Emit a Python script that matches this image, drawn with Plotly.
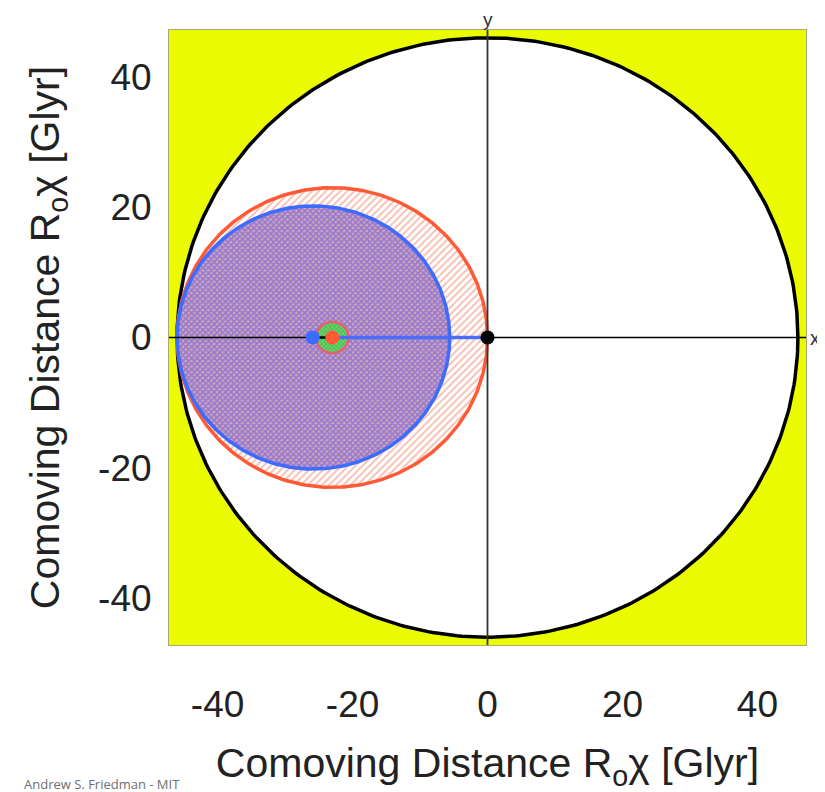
import numpy as np
import plotly.graph_objects as go

# ---- data (Glyr) ----
axis_range = [-47.2, 47.2]
tick_vals = [-40, -20, 0, 20, 40]
tick_text = ["-40", "-20", "0", "20", "40"]

universe_center = [0.0, 0.0]
universe_radius = 46.0

orange_center = [-23.0, 0.0]
orange_radius = 23.0

blue_center = [-25.8, 0.0]
blue_radius = 20.2

green_center = [-23.0, 0.0]
green_radius = 2.4

blue_dot = [-25.9, 0.0]
orange_dot = [-23.0, 0.0]
origin_dot = [0.0, 0.0]

theta = np.linspace(0, 2 * np.pi, 400)


def circle(c, r):
    return c[0] + r * np.cos(theta), c[1] + r * np.sin(theta)


fig = go.Figure()

# observable universe
ux, uy = circle(universe_center, universe_radius)
fig.add_trace(go.Scatter(x=ux, y=uy, mode="lines", fill="toself", fillcolor="white",
                         line=dict(color="black", width=3.5), hoverinfo="skip"))

# orange circle (hatched)
ox, oy = circle(orange_center, orange_radius)
fig.add_trace(go.Scatter(x=ox, y=oy, mode="lines", fill="toself",
                         fillpattern=dict(shape="/", fgcolor="#f07a5e", bgcolor="white",
                                          size=5, solidity=0.35),
                         line=dict(color="#ff5a36", width=3.5), hoverinfo="skip"))

# blue circle (cross-hatched)
bx, by = circle(blue_center, blue_radius)
fig.add_trace(go.Scatter(x=bx, y=by, mode="lines", fill="toself",
                         fillpattern=dict(shape="x", fgcolor="#4650ee", bgcolor="#daa4b4",
                                          size=4, solidity=0.65),
                         line=dict(color="#3b6bff", width=3.5), hoverinfo="skip"))

# axes lines
fig.add_trace(go.Scatter(x=axis_range, y=[0, 0], mode="lines",
                         line=dict(color="black", width=1.5), hoverinfo="skip"))
fig.add_trace(go.Scatter(x=[0, 0], y=axis_range, mode="lines",
                         line=dict(color="#333333", width=1.8), hoverinfo="skip"))

# small green circle
gx, gy = circle(green_center, green_radius)
fig.add_trace(go.Scatter(x=gx, y=gy, mode="lines", fill="toself",
                         fillpattern=dict(shape="x", fgcolor="#1f9a2e", bgcolor="#6fd870",
                                          size=3, solidity=0.5),
                         line=dict(color="#e8606e", width=2.5), hoverinfo="skip"))

# black segment between blue and orange dots
fig.add_trace(go.Scatter(x=[blue_dot[0], orange_dot[0]], y=[blue_dot[1], orange_dot[1]],
                         mode="lines", line=dict(color="black", width=2.5), hoverinfo="skip"))

# blue line to origin
fig.add_trace(go.Scatter(x=[orange_dot[0], origin_dot[0]], y=[orange_dot[1], origin_dot[1]],
                         mode="lines", line=dict(color="#4a6cff", width=3.5), hoverinfo="skip"))

# dots
fig.add_trace(go.Scatter(x=[blue_dot[0]], y=[blue_dot[1]], mode="markers",
                         marker=dict(color="#3b6bff", size=14), hoverinfo="skip"))
fig.add_trace(go.Scatter(x=[orange_dot[0]], y=[orange_dot[1]], mode="markers",
                         marker=dict(color="#ff5a36", size=14), hoverinfo="skip"))
fig.add_trace(go.Scatter(x=[origin_dot[0]], y=[origin_dot[1]], mode="markers",
                         marker=dict(color="black", size=14), hoverinfo="skip"))

title_font = dict(family="Liberation Sans, Arial, sans-serif", size=41, color="#222222")
tick_font = dict(family="Liberation Sans, Arial, sans-serif", size=37, color="#222222")

fig.update_layout(
    width=817, height=784,
    margin=dict(l=161, r=19, t=22, b=147, autoexpand=False),
    paper_bgcolor="white",
    plot_bgcolor="#ebfc00",
    showlegend=False,
    xaxis=dict(range=axis_range, tickvals=tick_vals, ticktext=tick_text,
               showgrid=False, zeroline=False, ticks="", automargin=False,
               showline=True, mirror=True, linecolor="#a8a87a", linewidth=1,
               tickfont=tick_font, ticklabelstandoff=27,
               title=dict(text="Comoving Distance R<sub>o</sub>χ [Glyr]", font=title_font, standoff=24)),
    yaxis=dict(range=axis_range, tickvals=tick_vals, ticktext=tick_text,
               showgrid=False, zeroline=False, ticks="", automargin=False,
               showline=True, mirror=True, linecolor="#a8a87a", linewidth=1,
               tickfont=tick_font, ticklabelstandoff=9,
               title=dict(text="Comoving Distance R<sub>o</sub>χ [Glyr]", font=title_font, standoff=25)),
    annotations=[
        dict(text="x", xref="paper", yref="y", x=1.0, y=0, xanchor="left", yanchor="middle",
             xshift=3, showarrow=False, borderpad=0,
             font=dict(family="Liberation Sans, Arial, sans-serif", size=20, color="#333333")),
        dict(text="y", xref="x", yref="paper", x=0, y=1.0, xanchor="center", yanchor="bottom",
             yshift=-1, showarrow=False, borderpad=0,
             font=dict(family="Liberation Sans, Arial, sans-serif", size=19, color="#333333")),
        dict(text="Andrew S. Friedman - MIT", xref="paper", yref="paper", x=-0.2308, y=-0.226,
             xanchor="left", yanchor="middle", showarrow=False,
             font=dict(family="Open Sans, Noto Sans, sans-serif", size=13, color="#707070")),
    ],
)

fig.write_html("out.html")
